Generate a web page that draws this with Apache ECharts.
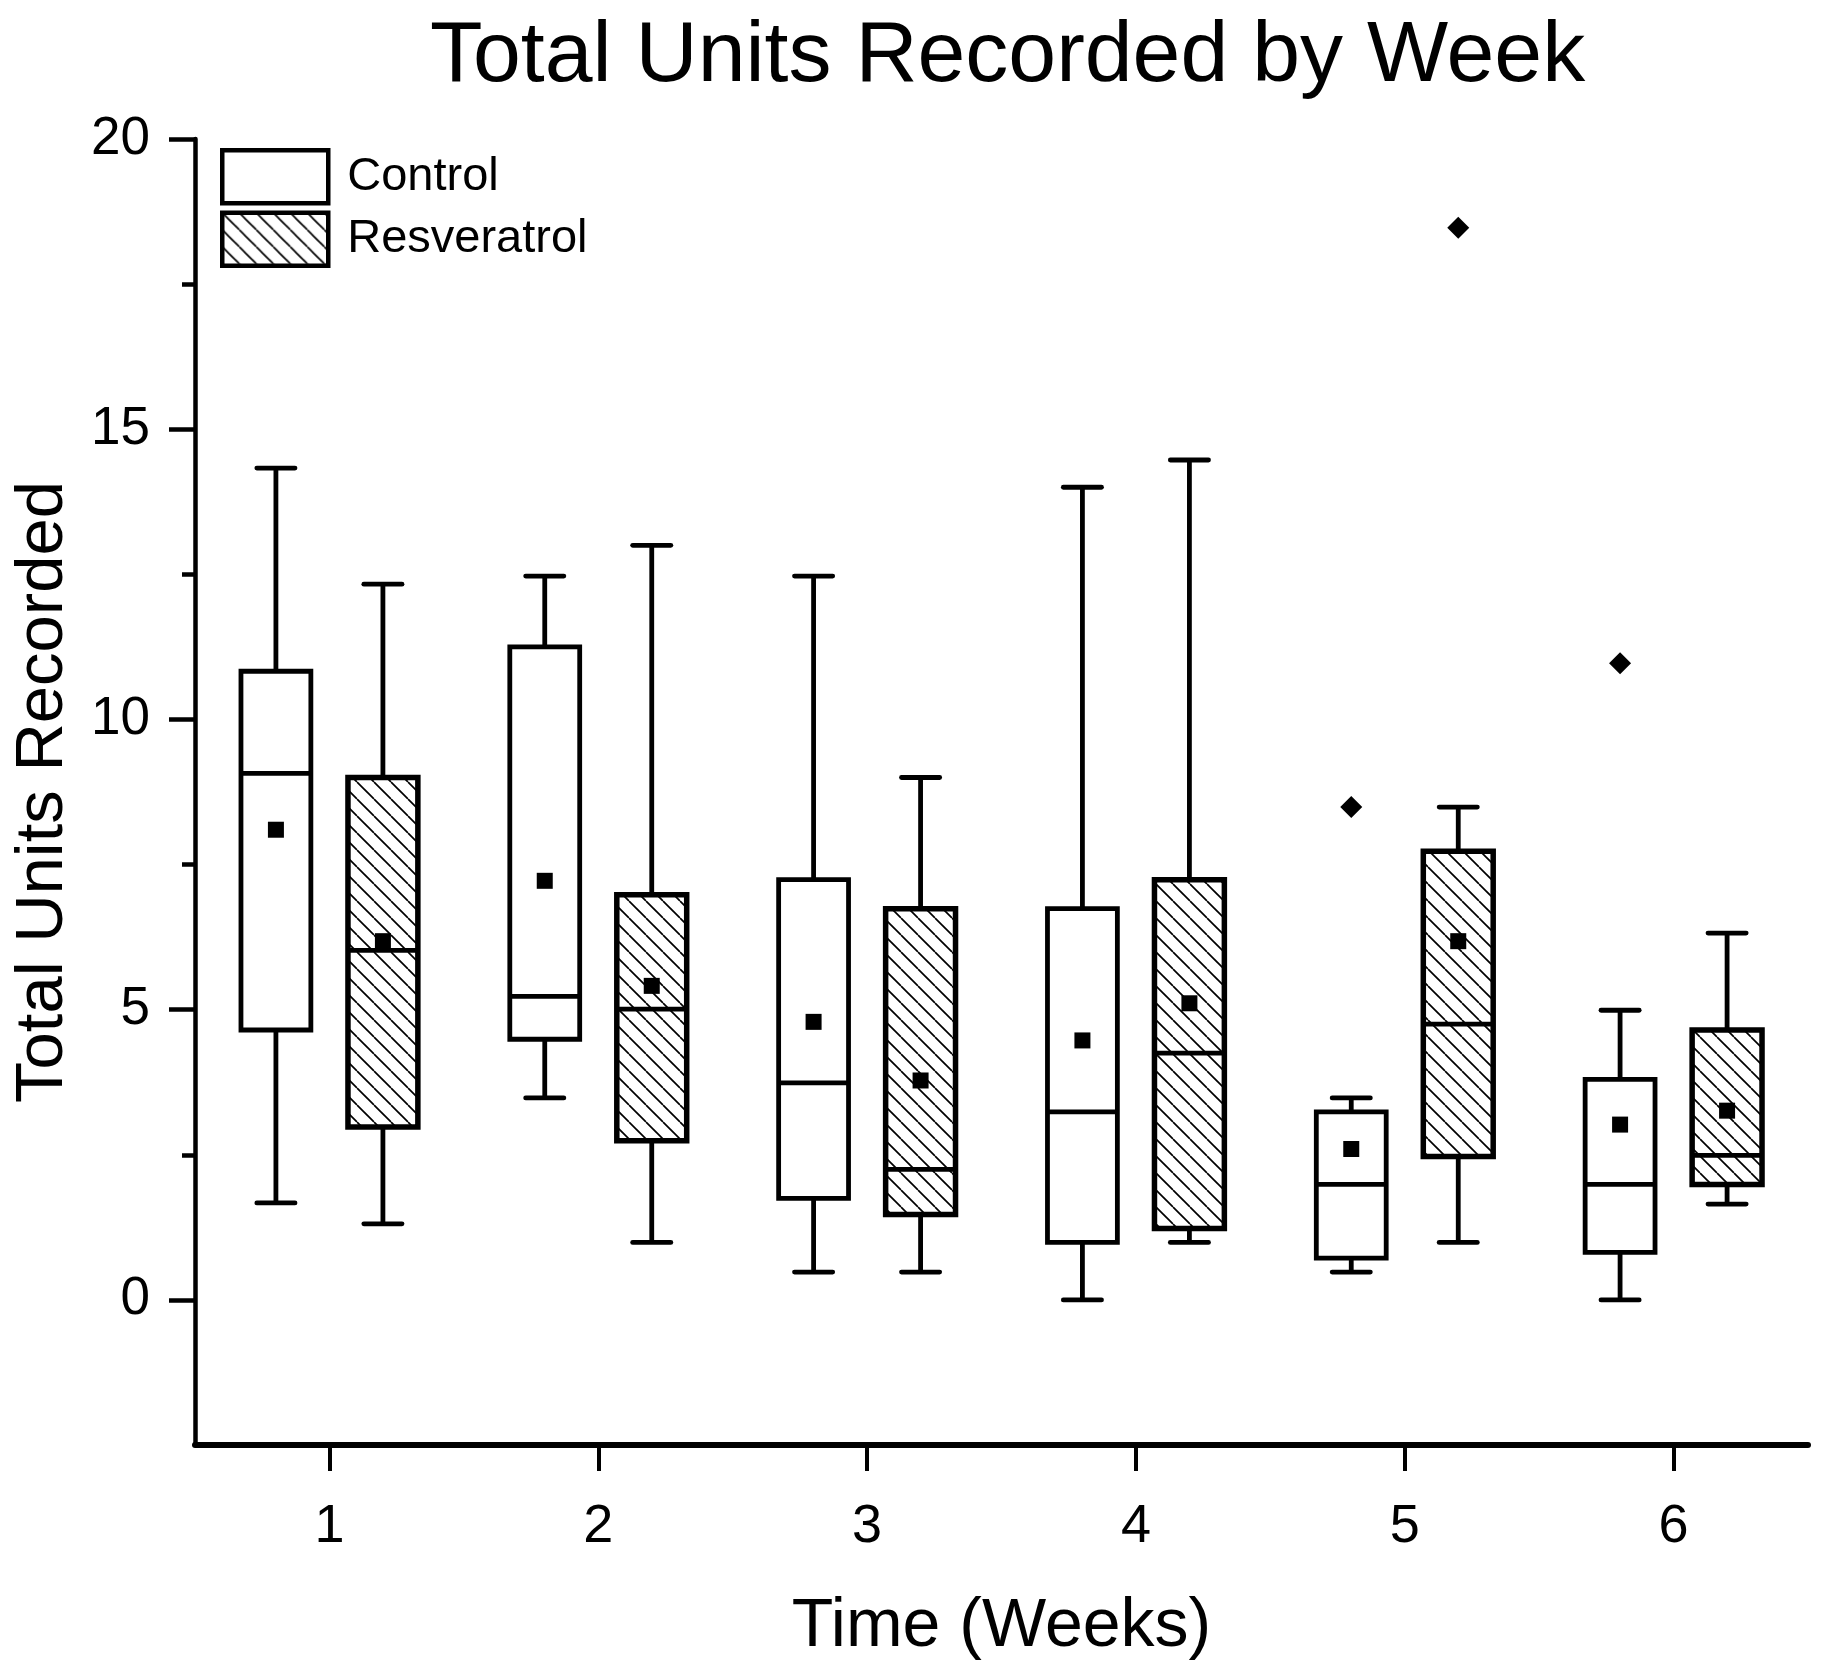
<!DOCTYPE html>
<html>
<head>
<meta charset="utf-8">
<script src="https://cdn.jsdelivr.net/npm/echarts@6/dist/echarts.min.js"></script>
<style>
html,body{margin:0;padding:0;background:#fff;}
#chart{width:1831px;height:1675px;}
</style>
</head>
<body>
<div id="chart"></div>
<script>
// ---- Data ----
var categories = ['1', '2', '3', '4', '5', '6'];
var controlMin    = [1.67, 3.48, 0.48, 0.00, 0.48, 0.00];
var controlQ1     = [4.65, 4.49, 1.75, 0.99, 0.72, 0.82];
var controlMedian = [9.07, 5.23, 3.74, 3.24, 1.99, 1.99];
var controlQ3     = [10.83, 11.25, 7.24, 6.74, 3.24, 3.80];
var controlMax    = [14.33, 12.47, 12.47, 14.00, 3.48, 4.99];
var controlMean   = [8.10, 7.22, 4.79, 4.47, 2.60, 3.02];
var resvMin    = [1.31, 0.99, 0.48, 0.99, 0.99, 1.65];
var resvQ1     = [2.98, 2.74, 1.47, 1.23, 2.47, 1.99];
var resvMedian = [6.02, 5.01, 2.25, 4.25, 4.75, 2.49];
var resvQ3     = [9.00, 6.98, 6.74, 7.24, 7.73, 4.65];
var resvMax    = [12.33, 13.00, 9.00, 14.47, 8.49, 6.32];
var resvMean   = [6.18, 5.41, 3.78, 5.11, 6.18, 3.26];
var controlOutliers = [[4, 8.49], [5, 10.97]];
var resvOutliers    = [[4, 18.47]];
var majorTicks = [0, 5, 10, 15, 20];
var minorTicks = [2.5, 7.5, 12.5, 17.5];

// ---- hatch pattern ----
var hatch = document.createElement('canvas');
hatch.width = 17; hatch.height = 17;
var hc = hatch.getContext('2d');
hc.strokeStyle = '#000';
hc.lineWidth = 1.7;
[-1, 0, 1].forEach(function (k) {
  hc.beginPath();
  hc.moveTo(k * 17, 0);
  hc.lineTo(k * 17 + 17, 17);
  hc.stroke();
});
var hatchPattern = { image: hatch, repeat: 'repeat' };

function buildBoxData(mn, q1, md, q3, mx, mean) {
  return categories.map(function (c, i) {
    return [i, mn[i], q1[i], md[i], q3[i], mx[i], mean[i]];
  });
}

var FONT = 'Liberation Sans, Arial, sans-serif';
var OFFSET = 0.199, HALF_W = 0.13, CAP_HALF = 0.071;
var LW = 4.8;

function makeRender(sign, fill, lw) {
  return function (params, api) {
    var cat = api.value(0);
    var band = api.size([1, 0])[0];
    var cx = api.coord([cat, 0])[0] + sign * band * OFFSET;
    var hw = band * HALF_W, ch = band * CAP_HALF;
    var yMin = api.coord([cat, api.value(1)])[1];
    var yQ1 = api.coord([cat, api.value(2)])[1];
    var yMed = api.coord([cat, api.value(3)])[1];
    var yQ3 = api.coord([cat, api.value(4)])[1];
    var yMax = api.coord([cat, api.value(5)])[1];
    var yMean = api.coord([cat, api.value(6)])[1];
    var ls = { stroke: '#000', lineWidth: LW, fill: null };
    var cs = { stroke: '#000', lineWidth: LW, lineCap: 'round' };
    return {
      type: 'group',
      children: [
        { type: 'line', shape: { x1: cx, y1: yMax, x2: cx, y2: yQ3 }, style: ls },
        { type: 'line', shape: { x1: cx, y1: yQ1, x2: cx, y2: yMin }, style: ls },
        { type: 'line', shape: { x1: cx - ch, y1: yMax, x2: cx + ch, y2: yMax }, style: cs },
        { type: 'line', shape: { x1: cx - ch, y1: yMin, x2: cx + ch, y2: yMin }, style: cs },
        { type: 'rect', shape: { x: cx - hw, y: yQ3, width: 2 * hw, height: yQ1 - yQ3 }, style: { fill: fill, stroke: '#000', lineWidth: lw } },
        { type: 'line', shape: { x1: cx - hw, y1: yMed, x2: cx + hw, y2: yMed }, style: ls },
        { type: 'rect', shape: { x: cx - 8, y: yMean - 8, width: 16, height: 16 }, style: { fill: '#000' } }
      ]
    };
  };
}

function makeOutlierRender(sign) {
  return function (params, api) {
    var cat = api.value(0);
    var band = api.size([1, 0])[0];
    var p = api.coord([cat, api.value(1)]);
    var cx = p[0] + sign * band * OFFSET, cy = p[1];
    return {
      type: 'polygon',
      shape: { points: [[cx, cy - 11], [cx + 11, cy], [cx, cy + 11], [cx - 11, cy]] },
      style: { fill: '#000' }
    };
  };
}

var chart = echarts.init(document.getElementById('chart'));
chart.setOption({
  animation: false,
  backgroundColor: '#fff',
  title: {
    text: 'Total Units Recorded by Week',
    left: 430, top: 14, padding: 0,
    textStyle: { fontFamily: FONT, fontSize: 86, fontWeight: 'normal', color: '#000' }
  },
  legend: {
    orient: 'vertical', left: 220, top: 148, padding: 0,
    itemWidth: 106, itemHeight: 53, itemGap: 5,
    textStyle: { fontFamily: FONT, fontSize: 47, color: '#000', padding: [4, 0, 0, 14] },
    data: [
      { name: 'Control', icon: 'rect', itemStyle: { color: '#fff', borderColor: '#000', borderWidth: 4.5 } },
      { name: 'Resveratrol', icon: 'rect', itemStyle: { color: hatchPattern, borderColor: '#000', borderWidth: 4.5 } }
    ]
  },
  grid: { left: 195, top: 139, right: 23, bottom: 230, containLabel: false },
  xAxis: {
    type: 'category', data: categories,
    name: 'Time (Weeks)', nameLocation: 'middle', nameGap: 148,
    nameTextStyle: { fontFamily: FONT, fontSize: 68, color: '#000' },
    axisLine: { show: true, onZero: false, lineStyle: { color: '#000', width: 6 } },
    axisTick: { show: true, inside: false, interval: 0, alignWithLabel: true, length: 26, lineStyle: { color: '#000', width: 4 } },
    axisLabel: { fontFamily: FONT, fontSize: 54, color: '#000', margin: 55, interval: 0 },
    splitLine: { show: false }
  },
  yAxis: [
    {
      type: 'value', min: -2.5, max: 20,
      name: 'Total Units Recorded', nameLocation: 'middle', nameGap: 118,
      nameTextStyle: { fontFamily: FONT, fontSize: 67, color: '#000' },
      axisLine: { show: true, onZero: false, lineStyle: { color: '#000', width: 4.5 } },
      axisTick: { show: true, length: 26, customValues: majorTicks, lineStyle: { color: '#000', width: 4.5 } },
      axisLabel: { fontFamily: FONT, fontSize: 53, color: '#000', margin: 45, customValues: majorTicks },
      splitLine: { show: false }
    },
    {
      type: 'value', min: -2.5, max: 20, position: 'left', offset: 0,
      axisLine: { show: false, onZero: false },
      axisTick: { show: true, length: 13, customValues: minorTicks, lineStyle: { color: '#000', width: 4.5 } },
      axisLabel: { show: false },
      splitLine: { show: false }
    }
  ],
  series: [
    {
      name: 'Control', type: 'custom',
      itemStyle: { color: '#fff', borderColor: '#000', borderWidth: 4 },
      renderItem: makeRender(-1, '#fff', LW),
      encode: { x: 0, y: [1, 2, 3, 4, 5, 6] },
      data: buildBoxData(controlMin, controlQ1, controlMedian, controlQ3, controlMax, controlMean)
    },
    {
      name: 'Resveratrol', type: 'custom',
      itemStyle: { color: hatchPattern, borderColor: '#000', borderWidth: 4 },
      renderItem: makeRender(1, hatchPattern, LW + 0.7),
      encode: { x: 0, y: [1, 2, 3, 4, 5, 6] },
      data: buildBoxData(resvMin, resvQ1, resvMedian, resvQ3, resvMax, resvMean)
    },
    {
      name: 'Control outliers', type: 'custom',
      renderItem: makeOutlierRender(-1),
      encode: { x: 0, y: 1 },
      data: controlOutliers
    },
    {
      name: 'Resveratrol outliers', type: 'custom',
      renderItem: makeOutlierRender(1),
      encode: { x: 0, y: 1 },
      data: resvOutliers
    }
  ]
});
</script>
</body>
</html>
